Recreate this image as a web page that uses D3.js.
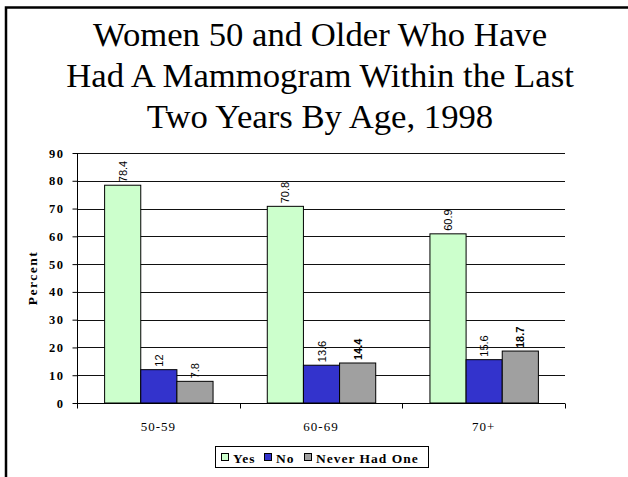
<!DOCTYPE html>
<html>
<head>
<meta charset="utf-8">
<script src="https://cdn.jsdelivr.net/npm/d3@7"></script>
</head>
<body style="margin:0">
<svg id="chart" width="628" height="477"></svg>
<script>
// Mammogram screening by age group, 1998 (percent)
const ageGroups = ["50-59", "60-69", "70+"];
const seriesNames = ["Yes", "No", "Never Had One"];
const yesValues = [78.4, 70.8, 60.9];
const noValues = [12, 13.6, 15.6];
const neverValues = [7.8, 14.4, 18.7];
const yTicks = [0, 10, 20, 30, 40, 50, 60, 70, 80, 90];
const titleLines = [
  "Women 50 and Older Who Have",
  "Had A Mammogram Within the Last",
  "Two Years By Age, 1998"
];
const seriesColors = ["#ccffcc", "#3333cc", "#a0a0a0"];
// label weight per series/group (the two larger "never" values are printed bold)
const labelBold = [[false, false, false], [false, false, false], [false, true, true]];

const seriesValues = [yesValues, noValues, neverValues];
const rows = ageGroups.map((g, i) => ({
  group: g,
  values: seriesNames.map((s, j) => ({ series: s, si: j, gi: i, value: seriesValues[j][i] }))
}));

const svg = d3.select("#chart");
const plot = { left: 77, right: 565, top: 153, bottom: 403 };

// outer frame (top and left edges visible)
svg.append("path")
  .attr("d", "M6,477 L6,7.5 L628,7.5")
  .attr("fill", "none").attr("stroke", "#000").attr("stroke-width", 2.5);

// title
svg.append("g").selectAll("text").data(titleLines).join("text")
  .attr("x", 320)
  .attr("y", (d, i) => 46 + i * 41)
  .attr("text-anchor", "middle")
  .style("font-family", "Times New Roman")
  .style("font-size", "34.7px")
  .text(d => d);

const x0 = d3.scaleBand().domain(ageGroups).range([plot.left, plot.right]).padding(0);
const x1 = d3.scaleBand().domain(seriesNames).range([0, x0.bandwidth()])
  .paddingInner(0).paddingOuter(0.75);
const y = d3.scaleLinear().domain([0, 90]).range([plot.bottom, plot.top]);

// gridlines
svg.append("g").selectAll("line").data(yTicks.filter(t => t > 0)).join("line")
  .attr("x1", plot.left).attr("x2", plot.right)
  .attr("y1", d => Math.round(y(d)) + 0.5).attr("y2", d => Math.round(y(d)) + 0.5)
  .attr("stroke", "#111").attr("stroke-width", 1);

// bars
const groups = svg.append("g").selectAll("g").data(rows).join("g")
  .attr("transform", d => `translate(${x0(d.group)},0)`);

groups.selectAll("rect").data(d => d.values).join("rect")
  .attr("x", d => x1(d.series) + 0.5)
  .attr("y", d => y(d.value))
  .attr("width", x1.bandwidth())
  .attr("height", d => y(0) - y(d.value))
  .attr("fill", d => seriesColors[d.si])
  .attr("stroke", "#000").attr("stroke-width", 1);

// value labels, rotated
groups.selectAll("text").data(d => d.values).join("text")
  .attr("transform", d => `translate(${x1(d.series) + x1.bandwidth() / 2 + 4.5},${y(d.value) - 3}) rotate(-90)`)
  .attr("text-anchor", "start")
  .style("font-family", "Arial")
  .style("font-size", "11px")
  .style("font-weight", d => labelBold[d.si][d.gi] ? "bold" : "normal")
  .text(d => d.value);

// y axis
const yAxis = svg.append("g")
  .attr("transform", `translate(${plot.left + 0.5},0)`)
  .call(d3.axisLeft(y).tickValues(yTicks).tickSize(5).tickPadding(8).tickSizeOuter(0))
  .attr("font-family", null).attr("font-size", null);
yAxis.select(".domain").attr("d", `M0,${plot.top}V${plot.bottom + 4}`).attr("stroke", "#000");
yAxis.selectAll(".tick line").attr("stroke", "#000");
yAxis.selectAll(".tick text")
  .style("font-family", "Times New Roman")
  .style("font-size", "12.5px").style("font-weight", "bold")
  .style("letter-spacing", "1.5px")
  .attr("fill", "#000");

// x axis
const xAxis = svg.append("g")
  .attr("transform", `translate(0,${plot.bottom + 0.5})`)
  .call(d3.axisBottom(x0).tickSize(0).tickPadding(18))
  .attr("font-family", null).attr("font-size", null);
xAxis.select(".domain").attr("d", `M${plot.left},0H${plot.right}`).attr("stroke", "#000");
xAxis.selectAll(".tick text")
  .style("font-family", "Times New Roman")
  .style("font-size", "13px").style("letter-spacing", "1px")
  .attr("fill", "#000");
// category separators
const seps = ageGroups.map(g => x0(g)).concat([plot.right]);
xAxis.append("g").selectAll("line").data(seps).join("line")
  .attr("x1", d => Math.round(d) + 0.5).attr("x2", d => Math.round(d) + 0.5)
  .attr("y1", 0).attr("y2", 5)
  .attr("stroke", "#000");

// y axis title
svg.append("text")
  .attr("transform", "translate(37,278) rotate(-90)")
  .attr("text-anchor", "middle")
  .style("font-family", "Times New Roman")
  .style("font-size", "13.5px").style("font-weight", "bold")
  .style("letter-spacing", "1.5px")
  .text("Percent");

// legend
const legend = svg.append("g");
legend.append("rect")
  .attr("x", 215.5).attr("y", 446.5).attr("width", 213).attr("height", 21)
  .attr("fill", "#fff").attr("stroke", "#000").attr("stroke-width", 1);
const legendX = [221, 264, 304];
const legendItems = legend.selectAll("g").data(seriesNames).join("g")
  .attr("transform", (d, i) => `translate(${legendX[i]},453)`);
legendItems.append("rect")
  .attr("x", 0.5).attr("y", 0.5).attr("width", 7).attr("height", 7)
  .attr("fill", (d, i) => seriesColors[i]).attr("stroke", "#000");
legendItems.append("text")
  .attr("x", 12).attr("y", 10)
  .style("font-family", "Times New Roman")
  .style("font-size", "13.5px").style("font-weight", "bold")
  .style("letter-spacing", "1px")
  .text(d => d);
</script>
</body>
</html>
